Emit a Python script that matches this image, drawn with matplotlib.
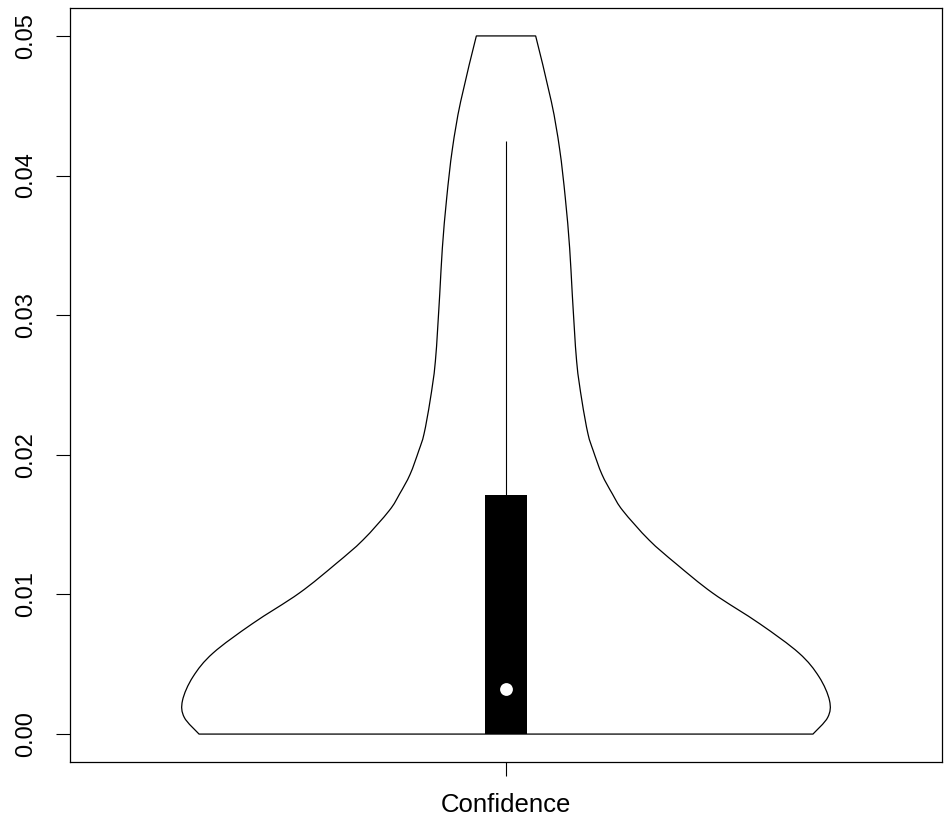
import numpy as np
import matplotlib.pyplot as plt
from matplotlib.path import Path
from matplotlib.patches import PathPatch

plt.rcParams['font.family'] = ['Liberation Sans', 'DejaVu Sans']

# violin outline: value level and half width (x units)
levels = [0.0, 0.0012, 0.0024, 0.0041, 0.0058, 0.0079, 0.0101, 0.0122,
          0.0139, 0.0160, 0.0172, 0.0186, 0.0203, 0.0215, 0.0239, 0.0267,
          0.0315, 0.0348, 0.0384, 0.0419, 0.0453, 0.0500]
half_width = [0.352, 0.369, 0.371, 0.359, 0.336, 0.291, 0.237, 0.195,
              0.164, 0.134, 0.122, 0.110, 0.100, 0.094, 0.087, 0.081,
              0.076, 0.073, 0.068, 0.0615, 0.052, 0.034]

# box summary
q1 = 0.0
q3 = 0.0171
median = 0.0032
upper_whisker = 0.0425
label = 'Confidence'
yticks = [0.00, 0.01, 0.02, 0.03, 0.04, 0.05]


def smooth_side(pts):
    # catmull-rom through the read points, as cubic bezier segments
    p = np.vstack([pts[0], pts, pts[-1]])
    verts, codes = [], []
    for i in range(1, len(p) - 2):
        c1 = p[i] + (p[i + 1] - p[i - 1]) / 6
        c2 = p[i + 1] - (p[i + 2] - p[i]) / 6
        verts += [c1, c2, p[i + 1]]
        codes += [Path.CURVE4] * 3
    return verts, codes


def violin_path(center, lv, hw):
    right = np.column_stack([center + hw, lv])
    left = np.column_stack([center - hw, lv])[::-1]
    verts, codes = [right[0]], [Path.MOVETO]
    v, c = smooth_side(right)
    verts += v; codes += c
    verts.append(left[0]); codes.append(Path.LINETO)
    v, c = smooth_side(left)
    verts += v; codes += c
    verts.append(right[0]); codes.append(Path.CLOSEPOLY)
    return Path(np.array(verts), codes)


fig = plt.figure(figsize=(9.46, 8.16), dpi=100)
ax = fig.add_axes([70 / 946, 1 - 762 / 816, 872 / 946, 754 / 816])

lv = np.array(levels)
hw = np.array(half_width)
ax.add_patch(PathPatch(violin_path(1, lv, hw), facecolor='white',
                       edgecolor='black', linewidth=0.9, zorder=1))

ax.vlines(1, q3, upper_whisker, color='black', linewidth=0.8, zorder=2)
ax.bar(1, q3 - q1, bottom=q1, width=0.048, color='black', linewidth=0, zorder=3)
ax.scatter([1], [median], s=85, color='white', linewidths=0, zorder=4)

ax.set_xlim(0.5, 1.5)
ax.set_ylim(-0.002, 0.052)
ax.set_xticks([1])
ax.set_xticklabels([label])
ax.set_yticks(yticks)
ax.set_yticklabels(['%.2f' % t for t in yticks], rotation=90, va='center')

ax.tick_params(axis='y', length=10, width=0.8, pad=14, labelsize=17)
ax.tick_params(axis='x', length=10, width=0.8, pad=12, labelsize=18.5)
for s in ax.spines.values():
    s.set_linewidth(0.9)

fig.savefig('out.png', dpi=100)
